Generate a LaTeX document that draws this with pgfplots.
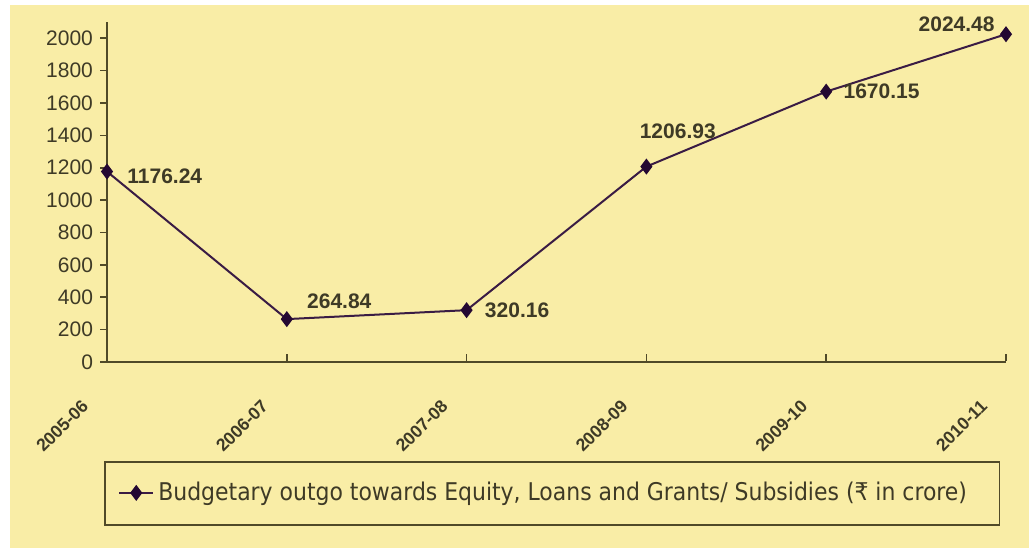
\documentclass[border=0pt]{standalone}
\usepackage{fontspec}
\setmainfont{Liberation Sans}
\newfontfamily\legfont{DejaVu Sans Condensed}
\usepackage{pgfplots}
\pgfplotsset{compat=1.18}
\definecolor{bg}{RGB}{249,237,166}
\definecolor{axc}{RGB}{80,74,40}
\definecolor{txt}{RGB}{62,58,38}
\definecolor{ln}{RGB}{58,28,68}
\definecolor{mk}{RGB}{36,8,50}
\begin{document}
\begin{tikzpicture}
\useasboundingbox (0,0) rectangle (514.5pt,278pt);
\fill[white] (0,0) rectangle (514.5pt,278pt);
\fill[bg] (5pt,4pt) rectangle (514.5pt,275.5pt);
\begin{axis}[
    at={(53.5pt,97pt)}, anchor=south west,
    scale only axis, width=449.5pt, height=170pt,
    xmin=0, xmax=5, ymin=0, ymax=2100,
    axis lines=left,
    axis line style={-, axc, line width=1pt},
    tick align=outside,
    major tick length=3.5pt,
    tick style={axc, line width=0.8pt},
    x tick style={yshift=4pt},
    xtick={0,...,5},
    xticklabels={2005-06,2006-07,2007-08,2008-09,2009-10,2010-11},
    ytick={0,200,...,2000},
    /pgf/number format/assume math mode=true,
    /pgf/number format/set thousands separator={},
    y tick label style={font=\fontsize{10.5}{12}\selectfont, text=txt},
    x tick label style={font=\bfseries\fontsize{8.8}{10}\selectfont, text=txt,
        xshift=-8.5pt, yshift=-14.5pt, rotate=45, anchor=east},
    legend style={draw=none, fill=none, at={(0.012,-0.385)}, anchor=west,
        inner sep=0pt, font=\legfont\fontsize{12.2}{14}\selectfont, text=txt},
    clip=false,
]
\addplot[ln, line width=1pt, mark=diamond*, mark size=3.2pt,
    mark options={mk, fill=mk}] coordinates {
    (0,1176.24) (1,264.84) (2,320.16) (3,1206.93) (4,1670.15) (5,2024.48)
};
\addlegendentry{Budgetary outgo towards Equity, Loans and Grants/ Subsidies (₹ in crore)}
\begin{scope}[every node/.style={inner sep=0pt, font=\bfseries\fontsize{10.5}{12}\selectfont, text=txt}]
\node[anchor=west, xshift=10pt, yshift=-2.5pt] at (axis cs:0,1176.24) {1176.24};
\node[anchor=west, xshift=10pt, yshift=9pt] at (axis cs:1,264.84) {264.84};
\node[anchor=west, xshift=9pt] at (axis cs:2,320.16) {320.16};
\node[anchor=west, xshift=-3.5pt, yshift=17.5pt] at (axis cs:3,1206.93) {1206.93};
\node[anchor=west, xshift=8.5pt] at (axis cs:4,1670.15) {1670.15};
\node[anchor=east, xshift=-5.5pt, yshift=5pt] at (axis cs:5,2024.48) {2024.48};
\end{scope}
\draw[axc, line width=0.8pt] (axis description cs:-0.002,-0.479) rectangle (axis description cs:0.993,-0.294);
\end{axis}
\end{tikzpicture}
\end{document}
